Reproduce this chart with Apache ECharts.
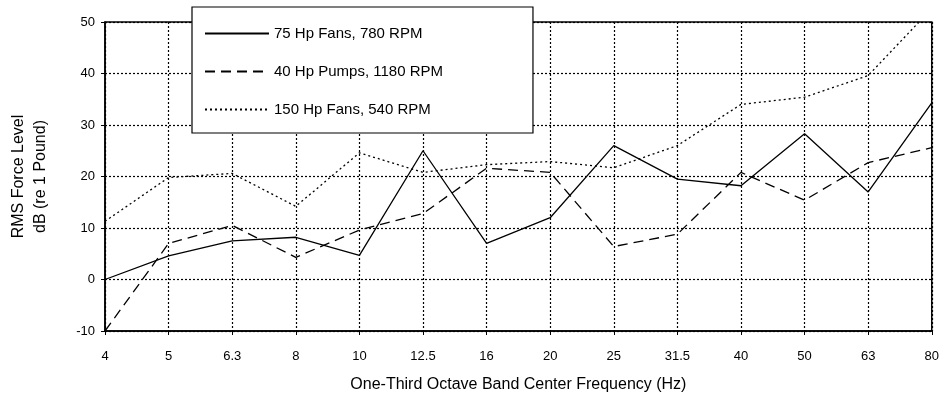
<!DOCTYPE html>
<html>
<head>
<meta charset="utf-8">
<script src="https://cdn.jsdelivr.net/npm/echarts@6/dist/echarts.min.js"></script>
<style>
  html, body { margin: 0; padding: 0; background: #fff; }
  #chart { width: 942px; height: 407px; }
</style>
</head>
<body>
<div id="chart"></div>
<script>
// one-third octave band centres (Hz)
const bands = ['4', '5', '6.3', '8', '10', '12.5', '16', '20', '25', '31.5', '40', '50', '63', '80'];

const fans75 = [0, 4.6, 7.5, 8.2, 4.7, 25, 7, 12, 26, 19.5, 18.2, 28.3, 17, 34.3];
const pumps40 = [-10, 7, 10.5, 4.3, 9.6, 12.8, 21.6, 20.8, 6.4, 8.8, 20.8, 15.4, 22.7, 25.6];
const fans150 = [11.3, 19.8, 20.6, 14.2, 24.6, 20.8, 22.3, 22.9, 21.7, 26, 34, 35.4, 39.6, 52.6];

const chart = echarts.init(document.getElementById('chart'));

const lineSeries = (name, data, type) => ({
  name: name,
  type: 'line',
  data: data,
  symbol: 'none',
  clip: true,
  color: '#000',
  lineStyle: { color: '#000', width: 1.3, type: type },
  z: 3
});

chart.setOption({
  animation: false,
  grid: {
    left: 103,
    right: 8,
    top: 22,
    bottom: 76,
    show: true,
    borderColor: '#000',
    borderWidth: 1.5
  },
  legend: {
    orient: 'vertical',
    left: 192,
    top: 7,
    width: 296,
    padding: [19, 90, 16, 12],
    backgroundColor: '#fff',
    borderColor: '#000',
    borderWidth: 1.2,
    itemWidth: 64,
    itemHeight: 14,
    itemGap: 23,
    itemStyle: { opacity: 0 },
    z: 10,
    textStyle: { fontFamily: 'Liberation Sans, Arial', fontSize: 15, color: '#000' },
    data: ['75 Hp Fans, 780 RPM', '40 Hp Pumps, 1180 RPM', '150 Hp Fans, 540 RPM']
  },
  xAxis: {
    type: 'category',
    data: bands,
    boundaryGap: false,
    name: 'One-Third Octave Band Center Frequency (Hz)',
    nameLocation: 'middle',
    nameGap: 46,
    nameTextStyle: { fontFamily: 'Liberation Sans, Arial', fontSize: 16, color: '#000' },
    axisLine: { onZero: false, lineStyle: { color: '#000', width: 1.5 } },
    axisTick: { show: true, length: 4, lineStyle: { color: '#000' } },
    axisLabel: { margin: 19, fontFamily: 'Liberation Sans, Arial', fontSize: 13, color: '#000' },
    splitLine: { show: true, lineStyle: { color: '#000', type: [2, 2], width: 1.2 } }
  },
  yAxis: {
    type: 'value',
    min: -10,
    max: 50,
    interval: 10,
    name: 'RMS Force Level\ndB (re 1 Pound)',
    nameLocation: 'middle',
    nameGap: 53,
    nameTextStyle: { fontFamily: 'Liberation Sans, Arial', fontSize: 16, color: '#000', lineHeight: 22 },
    axisLine: { show: true, lineStyle: { color: '#000', width: 1.5 } },
    axisTick: { show: true, length: 4, lineStyle: { color: '#000' } },
    axisLabel: { margin: 10, fontFamily: 'Liberation Sans, Arial', fontSize: 13, color: '#000' },
    splitLine: { show: true, lineStyle: { color: '#000', type: [2, 2], width: 1.2 } }
  },
  series: [
    lineSeries('75 Hp Fans, 780 RPM', fans75, 'solid'),
    lineSeries('40 Hp Pumps, 1180 RPM', pumps40, [10, 6]),
    lineSeries('150 Hp Fans, 540 RPM', fans150, [2, 3])
  ]
});
</script>
</body>
</html>
